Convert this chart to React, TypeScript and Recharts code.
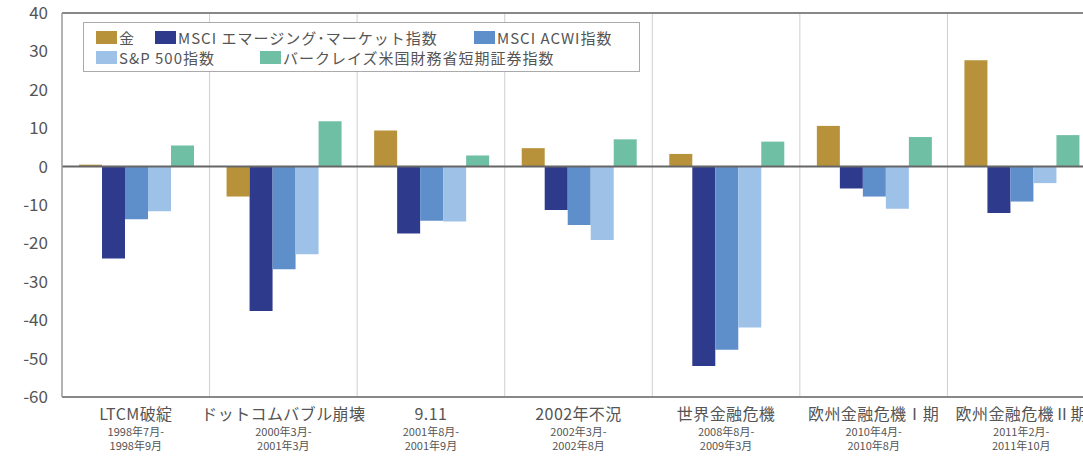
import React from "react";
import { BarChart, Bar, XAxis, YAxis, CartesianGrid, ReferenceLine } from "recharts";

const categories = ["LTCM破綻", "ドットコムバブル崩壊", "9.11", "2002年不況", "世界金融危機", "欧州金融危機Ⅰ期", "欧州金融危機Ⅱ期"];
const periodStart = ["1998年7月-", "2000年3月-", "2001年8月-", "2002年3月-", "2008年8月-", "2010年4月-", "2011年2月-"];
const periodEnd = ["1998年9月", "2001年3月", "2001年9月", "2002年8月", "2009年3月", "2010年8月", "2011年10月"];

const gold = [0.5, -7.8, 9.4, 4.8, 3.3, 10.6, 27.7];
const msciEm = [-23.9, -37.6, -17.4, -11.3, -51.9, -5.7, -12.1];
const msciAcwi = [-13.7, -26.7, -14.1, -15.2, -47.7, -7.8, -9.1];
const sp500 = [-11.6, -22.8, -14.3, -19.1, -41.9, -11.0, -4.3];
const tbill = [5.5, 11.8, 2.9, 7.1, 6.5, 7.7, 8.2];

const yTicks = [40, 30, 20, 10, 0, -10, -20, -30, -40, -50, -60];

const seriesNames = ["金", "MSCI エマージング･マーケット指数", "MSCI ACWI指数", "S&P 500指数", "バークレイズ米国財務省短期証券指数"];
const seriesKeys = ["gold", "em", "acwi", "sp", "tbill"];
const seriesColors = ["#B8923A", "#2E3A8C", "#5E8FCB", "#9EC1E8", "#6FBFA4"];

const data = categories.map((c, i) => ({
  name: c,
  gold: gold[i],
  em: msciEm[i],
  acwi: msciAcwi[i],
  sp: sp500[i],
  tbill: tbill[i],
}));

const FONT = "'Noto Sans CJK JP', 'Noto Sans', sans-serif";

const XTick = (props: any) => {
  const { x, y, payload } = props;
  const i = payload.index;
  return (
    <g transform={`translate(${x},${y})`}>
      <text x={0} y={15} textAnchor="middle" fontSize={16} fill="#555" fontFamily={FONT} letterSpacing={0.4}>
        {categories[i]}
      </text>
      <text x={0} y={31} textAnchor="middle" fontSize={11} fill="#555" fontFamily={FONT}>
        {periodStart[i]}
      </text>
      <text x={0} y={45} textAnchor="middle" fontSize={11} fill="#555" fontFamily={FONT}>
        {periodEnd[i]}
      </text>
    </g>
  );
};

const legendRows = [
  [0, 1, 2],
  [3, 4],
];
const legendLeft = [12, 71, 390, 12, 176];

const LegendBox = () => {
  const item = (idx: number) => (
    <span
      key={idx}
      style={{
        position: "absolute",
        left: legendLeft[idx],
        top: 0,
        height: 20,
        display: "inline-flex",
        alignItems: "center",
        whiteSpace: "nowrap",
      }}
    >
      <span style={{ display: "inline-block", width: 21, height: 13, background: seriesColors[idx], marginRight: 2 }} />
      <span>{seriesNames[idx]}</span>
    </span>
  );
  return (
    <div
      style={{
        position: "absolute",
        left: 83,
        top: 22,
        width: 557,
        height: 50,
        border: "1.5px solid #aaa",
        fontFamily: FONT,
        fontSize: 15,
        letterSpacing: 1,
        color: "#555",
        lineHeight: "19px",
        background: "#fff",
        boxSizing: "border-box",
      }}
    >
      {legendRows.map((row, r) => (
        <div key={r} style={{ position: "absolute", left: 0, top: 4 + r * 20, height: 20, width: "100%" }}>
          {row.map(item)}
        </div>
      ))}
    </div>
  );
};

export default function App() {
  return (
    <div style={{ position: "absolute", left: 0, top: 0, width: 1083, height: 461, overflow: "hidden", background: "#fff" }}>
      <BarChart
        width={1095}
        height={461}
        data={data}
        margin={{ top: 13, right: 0, left: 0, bottom: 0 }}
        barCategoryGap={17}
        barGap={0}
      >
        <CartesianGrid
          horizontal={false}
          vertical={true}
          stroke="#cfcfcf"
          strokeWidth={1}
          verticalCoordinatesGenerator={({ offset }: any) =>
            categories.slice(1).map((_, i) => offset.left + ((i + 1) * offset.width) / categories.length)
          }
        />
        <XAxis
          dataKey="name"
          height={64}
          tick={<XTick />}
          tickLine={false}
          axisLine={{ stroke: "#888", strokeWidth: 2 }}
          interval={0}
        />
        <YAxis
          width={62}
          domain={[-60, 40]}
          ticks={yTicks}
          interval={0}
          tickSize={0}
          tickMargin={14}
          axisLine={{ stroke: "#999", strokeWidth: 1.5 }}
          tick={{ fontSize: 17, fill: "#555", fontFamily: FONT }}
        />
        <ReferenceLine y={40} stroke="#888" strokeWidth={2} />
        {seriesKeys.map((k, i) => (
          <Bar key={k} dataKey={k} name={seriesNames[i]} fill={seriesColors[i]} isAnimationActive={false} />
        ))}
        <ReferenceLine y={0} stroke="#666" strokeWidth={2} />
      </BarChart>
      <LegendBox />
    </div>
  );
}
